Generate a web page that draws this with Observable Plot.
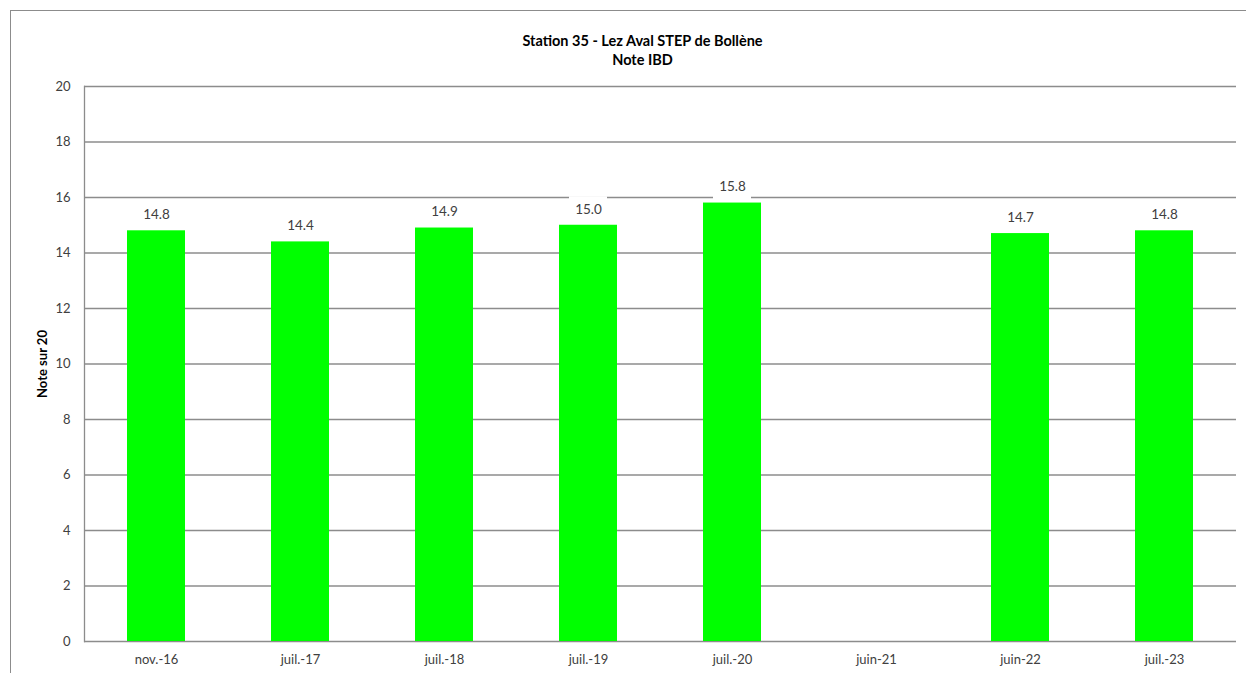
<!DOCTYPE html>
<html>
<head>
<meta charset="utf-8">
<script src="https://cdn.jsdelivr.net/npm/d3@7"></script>
<script src="https://cdn.jsdelivr.net/npm/@observablehq/plot@0.6"></script>
<style>
  html, body { margin: 0; padding: 0; background: #fff; }
  #wrap { position: relative; width: 1246px; height: 673px; overflow: hidden; }
  #border { position: absolute; left: 10px; top: 10px; width: 1300px; height: 700px; border: 1px solid #8c8c8c; pointer-events: none; }
</style>
</head>
<body>
<div id="wrap"><div id="chart"></div><div id="border"></div></div>
<script>
const categories = ["nov.-16", "juil.-17", "juil.-18", "juil.-19", "juil.-20", "juin-21", "juin-22", "juil.-23"];
const values = [14.8, 14.4, 14.9, 15.0, 15.8, null, 14.7, 14.8];
const yTicks = [0, 2, 4, 6, 8, 10, 12, 14, 16, 18, 20];
const titleLines = ["Station 35 - Lez Aval STEP de Bollène", "Note IBD"];
const yLabel = "Note sur 20";

const data = categories.map((c, i) => ({category: c, value: values[i]}));
const present = data.filter(d => d.value != null);

const font = "Lato, 'Open Sans', sans-serif";

const chart = Plot.plot({
  width: 1246,
  height: 673,
  marginLeft: 84,
  marginRight: 10,
  marginTop: 86,
  marginBottom: 32,
  style: {fontFamily: font, fontSize: "13px", color: "#404040", background: "transparent"},
  x: {domain: categories, paddingInner: 0.6, paddingOuter: 0.3, label: null},
  y: {domain: [0, 20], label: null},
  marks: [
    Plot.gridY(yTicks, {stroke: "#8c8c8c", strokeOpacity: 1, strokeWidth: 1.3}),
    Plot.frame({anchor: "left", stroke: "#8c8c8c", strokeWidth: 1.3}),
    Plot.barY(present, {x: "category", y: "value", fill: "#00ff00"}),
    Plot.tickY(present, {x: "category", y: "value", dy: -16, stroke: "white", strokeWidth: 26,
      insetLeft: 10, insetRight: 10}),
    Plot.text(present, {x: "category", y: "value", text: d => d.value.toFixed(1), dy: -16,
      fill: "#404040", fontSize: 13.5}),
    Plot.axisY(yTicks, {tickSize: 0, tickPadding: 14, fontSize: 13, fill: "#404040", label: null}),
    Plot.axisX({tickSize: 0, tickPadding: 13, fontSize: 13, fill: "#404040", label: null}),
    Plot.text([titleLines[0]], {frameAnchor: "top", dx: -18, dy: -51, fontWeight: "bold", fontSize: 14.5, fill: "#000"}),
    Plot.text([titleLines[1]], {frameAnchor: "top", dx: -18, dy: -32, fontWeight: "bold", fontSize: 14.5, fill: "#000"}),
    Plot.text([yLabel], {frameAnchor: "left", dx: -42, rotate: -90, textAnchor: "middle",
      fontWeight: "bold", fontSize: 13, fill: "#000"})
  ]
});
document.getElementById("chart").appendChild(chart);
</script>
</body>
</html>
